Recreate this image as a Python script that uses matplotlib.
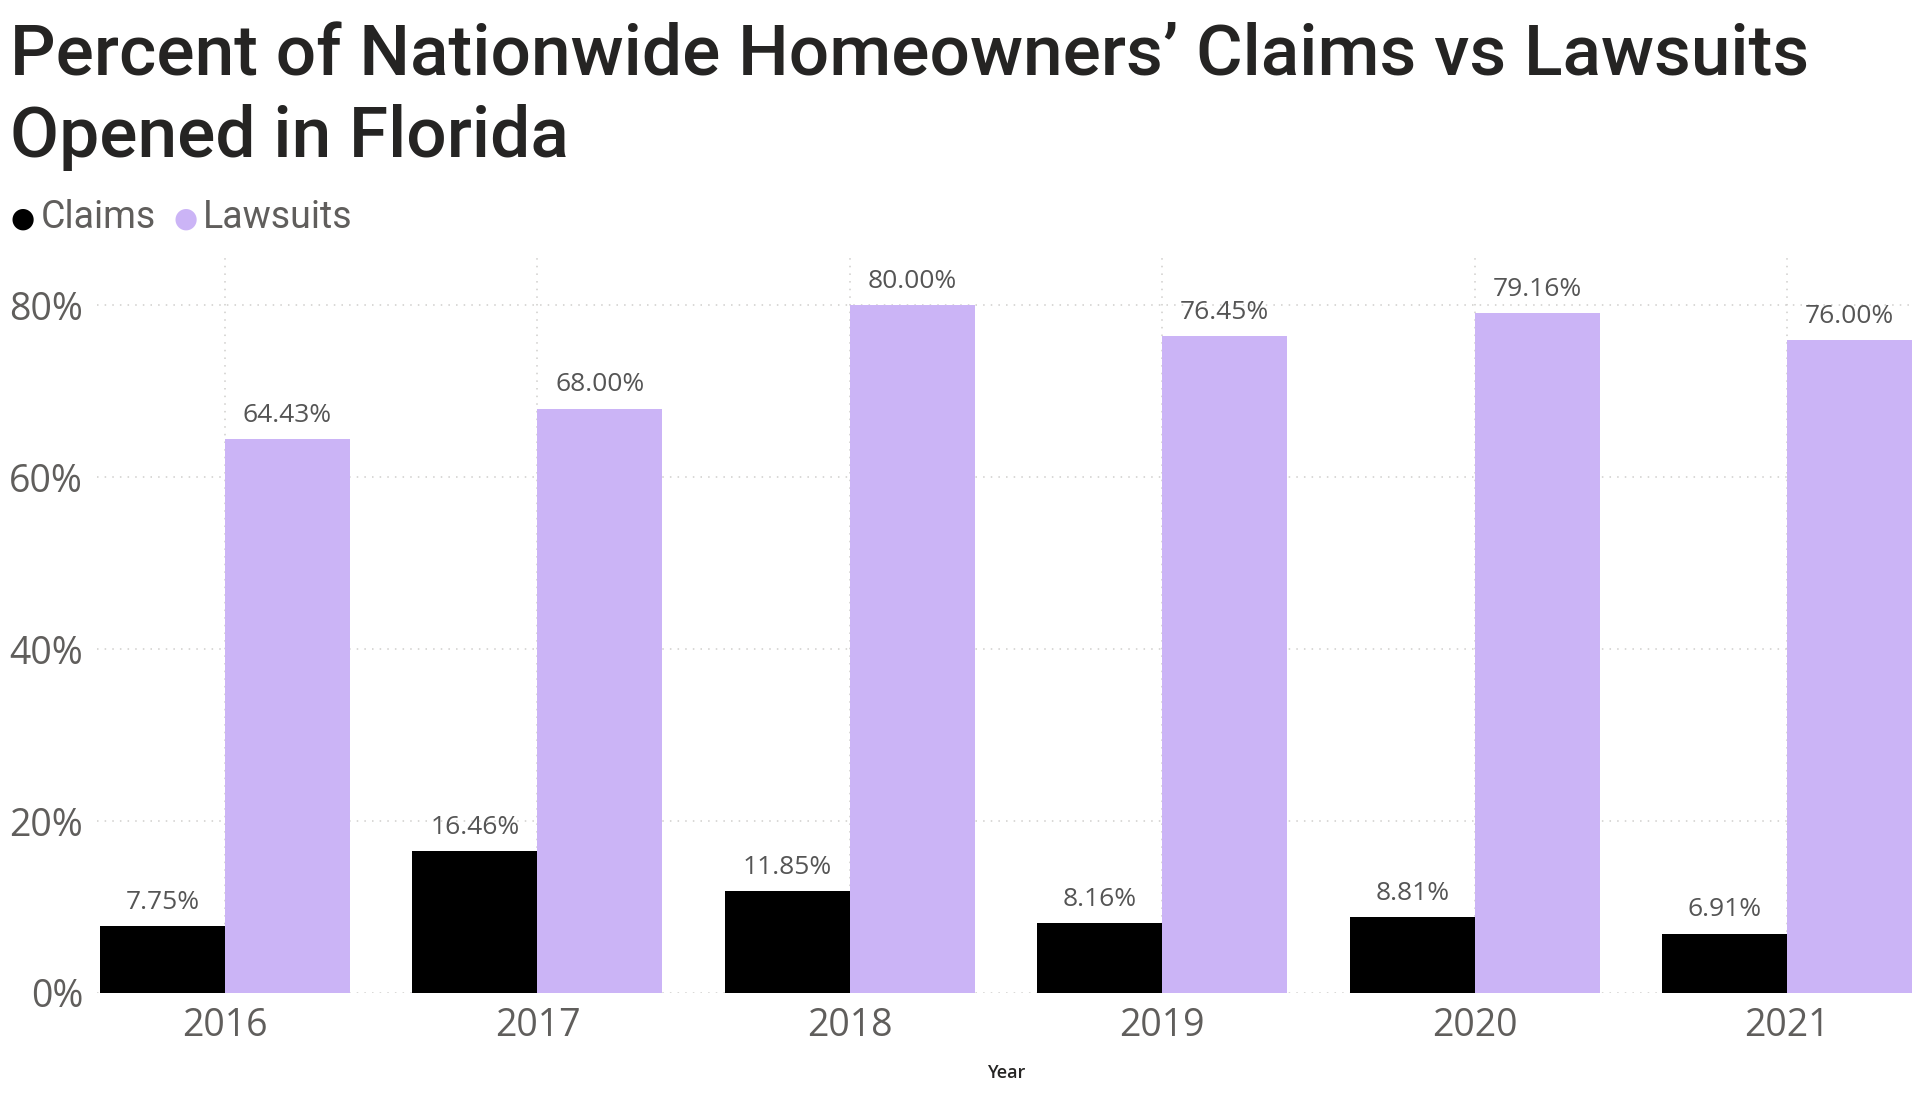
import matplotlib
matplotlib.use("Agg")
import matplotlib.pyplot as plt
import numpy as np

years = ["2016", "2017", "2018", "2019", "2020", "2021"]
claims = [7.75, 16.46, 11.85, 8.16, 8.81, 6.91]
lawsuits = [64.43, 68.00, 80.00, 76.45, 79.16, 76.00]
yticks = [0, 20, 40, 60, 80]

CLAIM_COL = "#000000"
LAW_COL = "#CBB4F6"
GRAY = "#605E5C"

fig = plt.figure(figsize=(19.2, 10.95), dpi=100)
ax = fig.add_axes([0.0505, 0.0932, 0.947, 0.671])

x = np.arange(len(years))
w = 0.4
ax.bar(x - w / 2, claims, w, color=CLAIM_COL, zorder=3)
ax.bar(x + w / 2, lawsuits, w, color=LAW_COL, zorder=3)

for xi, v in zip(x, claims):
    ax.annotate(f"{v:.2f}%", (xi - w / 2, v), xytext=(0, 8), textcoords="offset points",
                ha="center", va="bottom", fontsize=19, color="#555555", family="Open Sans")
for xi, v in zip(x, lawsuits):
    ax.annotate(f"{v:.2f}%", (xi + w / 2, v), xytext=(0, 8), textcoords="offset points",
                ha="center", va="bottom", fontsize=19, color="#555555", family="Open Sans")

ax.set_xlim(-0.41, 5.41)
ax.set_ylim(0, 85.5)
ax.set_xticks(x)
ax.set_xticklabels(years, fontsize=27, color=GRAY, family="Open Sans")
ax.set_yticks(yticks)
ax.set_yticklabels([f"{t}%" for t in yticks], fontsize=27, color=GRAY, family="Open Sans")
ax.tick_params(length=0, pad=10)
ax.grid(axis="y", linestyle=(0, (1, 4)), color="#D0CECC", linewidth=1.1, zorder=0)
ax.grid(axis="x", linestyle=(0, (1, 4)), color="#D0CECC", linewidth=1.1, zorder=0)
for s in ax.spines.values():
    s.set_visible(False)
ax.set_xlabel("Year", fontsize=13, color="#252423", family="Open Sans", weight="semibold", labelpad=14)

fig.text(0.005, 1 - 76 / 1095, "Percent of Nationwide Homeowners\u2019 Claims vs Lawsuits",
         fontsize=51.3, color="#252423", family="Roboto", weight="medium", va="baseline")
fig.text(0.005, 1 - 157 / 1095, "Opened in Florida",
         fontsize=51.3, color="#252423", family="Roboto", weight="medium", va="baseline")

# legend
fig.text(0.0055, 1 - 227 / 1095, "\u25CF", fontsize=20, color=CLAIM_COL, va="baseline")
fig.text(0.021, 1 - 228 / 1095, "Claims", fontsize=27, color=GRAY, family="Roboto", va="baseline")
fig.text(0.0905, 1 - 227 / 1095, "\u25CF", fontsize=20, color=LAW_COL, va="baseline")
fig.text(0.1055, 1 - 228 / 1095, "Lawsuits", fontsize=27, color=GRAY, family="Roboto", va="baseline")

fig.savefig("out.png", dpi=100, facecolor="white")
